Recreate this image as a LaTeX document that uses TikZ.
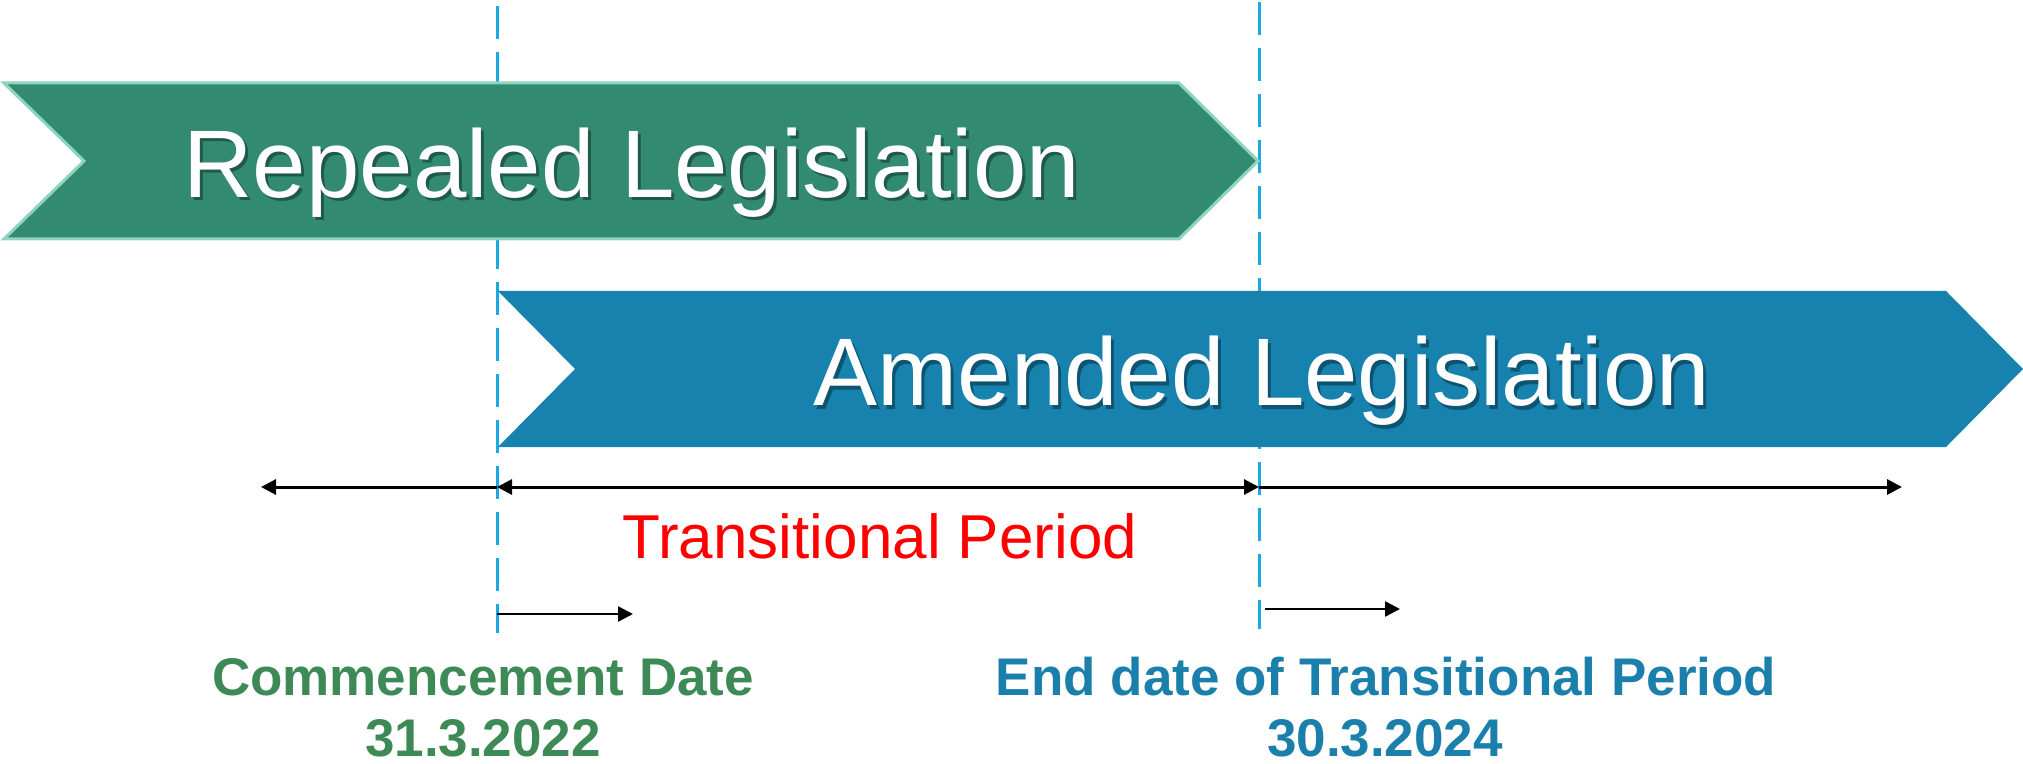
\documentclass[tikz,border=0pt]{standalone}
\usepackage{fontspec}
\setmainfont{Liberation Sans}
\usetikzlibrary{arrows.meta}
\definecolor{repfill}{HTML}{328A71}
\definecolor{repline}{HTML}{8ED4BF}
\definecolor{amdfill}{HTML}{1782AD}
\definecolor{dashblue}{HTML}{1CA8E3}
\definecolor{txtgreen}{HTML}{3D8A56}
\definecolor{txtblue}{HTML}{1A7FAB}
\tikzset{
  guide/.style={draw=dashblue, line width=1.5pt, dash pattern=on 16.5pt off 6.5pt},
  span/.style={draw=black, line width=1.5pt},
  shortspan/.style={draw=black, line width=1.25pt},
  onetip/.style={-{Triangle[length=7.5pt,width=7.5pt]}},
  twotips/.style={{Triangle[length=7.5pt,width=7.5pt]}-{Triangle[length=7.5pt,width=7.5pt]}},
  bannerfont/.style={font=\fontsize{48}{56}\selectfont, anchor=base, inner sep=0pt},
  bannertext/.style={bannerfont, text=white},
  bannershadow/.style={bannerfont, text=black, opacity=0.35},
  periodtext/.style={font=\fontsize{31}{37}\selectfont, anchor=base, inner sep=0pt, text=red},
  datelabel/.style={font=\bfseries\fontsize{26.5}{31.5}\selectfont, anchor=base, inner sep=0pt}
}
\begin{document}
\begin{tikzpicture}[x=0.5pt,y=-0.5pt]
\useasboundingbox (0,0) rectangle (2023,764);
% guides
\coordinate (gA) at (497,6);
\coordinate (gB) at (497,633);
\coordinate (gC) at (1259,2);
\coordinate (gD) at (1259,629);
\draw[guide] (gA) -- (gB);
\draw[guide] (gC) -- (gD);
% banners
\draw[fill=repfill, draw=repline, line width=1.5pt]
  (4,83) -- (1179,83) -- (1258,161) -- (1179,239) -- (4,239) -- (84,161) -- cycle;
\fill[amdfill]
  (498,291) -- (1946,291) -- (2023,369) -- (1946,447) -- (498,447) -- (575,369) -- cycle;
\node[bannershadow] (repS) at (635,201) {Repealed Legislation};
\node[bannertext] (rep) at (632,198) {Repealed Legislation};
\node[bannershadow] (amdS) at (1265,409) {Amended Legislation};
\node[bannertext] (amd) at (1262,406) {Amended Legislation};
% time line
\coordinate (tL) at (261,487);
\coordinate (c1) at (497,487);
\coordinate (c2) at (1259,487);
\coordinate (tR) at (1902,487);
\draw[span,onetip] (c1) -- (tL);
\draw[span,twotips] (c1) -- (c2);
\draw[span,onetip] (c2) -- (tR);
\node[periodtext] (tp) at (880,558) {Transitional Period};
% short arrows
\coordinate (s1) at (497,614);
\coordinate (s1e) at (633,614);
\coordinate (s2) at (1265,609);
\coordinate (s2e) at (1400,609);
\draw[shortspan,onetip] (s1) -- (s1e);
\draw[shortspan,onetip] (s2) -- (s2e);
% labels
\node[datelabel, text=txtgreen] (cd) at (483,695) {Commencement Date};
\node[datelabel, text=txtgreen] (cdd) at (483,756) {31.3.2022};
\node[datelabel, text=txtblue] (ed) at (1386,695) {End date of Transitional Period};
\node[datelabel, text=txtblue] (edd) at (1385,756) {30.3.2024};
\end{tikzpicture}
\end{document}
